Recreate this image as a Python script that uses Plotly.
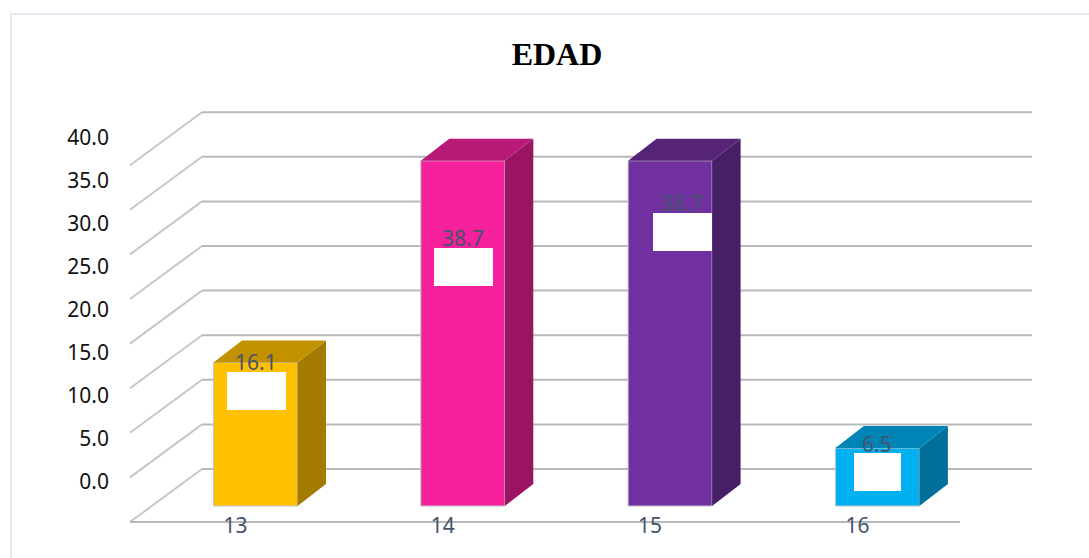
import plotly.graph_objects as go

# --- data ---
categories = ["13", "14", "15", "16"]
values = [16.1, 38.7, 38.7, 6.5]
value_labels = ["16.1", "38.7", "38.7", "6.5"]
y_ticks = [0, 5, 10, 15, 20, 25, 30, 35, 40]
y_tick_labels = ["0.0", "5.0", "10.0", "15.0", "20.0", "25.0", "30.0", "35.0", "40.0"]

# --- styling ---
front_colors = ["#FFC000", "#F5209B", "#7030A0", "#00B0F0"]
top_colors = ["#C19100", "#B81A78", "#552478", "#0084B5"]
side_colors = ["#A37B00", "#9A1462", "#461F66", "#00709A"]
GRID = "#B7B9BC"
TEXT = "#44546A"

W, H = 1089, 558
PX_CAT, X0 = 207.3, 255.5     # pixels per category, pixel of category 0
PX_VAL, Y0 = 8.92, 506.0      # pixels per value unit, pixel of value 0
xrange_main = [(0 - X0) / PX_CAT, (W - X0) / PX_CAT]
yrange_main = [(Y0 - H) / PX_VAL, Y0 / PX_VAL]

# tick label axes use their own spacing (as in the reference)
TICK_PX, TICK_Y0 = 43.1 / 5, 482.0
yrange_lab = [(TICK_Y0 - H) / TICK_PX, TICK_Y0 / TICK_PX]
LABEL_SHIFT = -20.0
xrange_lab = [(0 - X0 - LABEL_SHIFT) / PX_CAT, (W - X0 - LABEL_SHIFT) / PX_CAT]

BAR_W = 84 / PX_CAT
DEPTH_X = 28.5 / PX_CAT
DEPTH_Y = 22 / PX_VAL

# box walls, in axis units
WALL_L = (130 - X0) / PX_CAT
WALL_R = (960 - X0) / PX_CAT
BACK_DX = 72 / PX_CAT
FRONT_DV = -16 / PX_VAL
BACK_DV = 37 / PX_VAL

fig = go.Figure()

fig.add_trace(go.Bar(
    x=list(range(len(values))), y=values, width=BAR_W,
    marker=dict(color=front_colors, line=dict(color="#C4C4C8", width=1)),
    hoverinfo="skip", showlegend=False,
))

for i, v in enumerate(values):
    l, r = i - BAR_W / 2, i + BAR_W / 2
    fig.add_trace(go.Scatter(
        x=[r, r + DEPTH_X, r + DEPTH_X, r, r], y=[0, DEPTH_Y, v + DEPTH_Y, v, 0],
        mode="lines", fill="toself", fillcolor=side_colors[i],
        line=dict(width=0), hoverinfo="skip", showlegend=False))
    fig.add_trace(go.Scatter(
        x=[l, l + DEPTH_X, r + DEPTH_X, r, l], y=[v, v + DEPTH_Y, v + DEPTH_Y, v, v],
        mode="lines", fill="toself", fillcolor=top_colors[i],
        line=dict(width=0), hoverinfo="skip", showlegend=False))

# invisible trace that carries the label axes
fig.add_trace(go.Scatter(
    x=list(range(len(categories))), y=[0] * len(categories), xaxis="x2", yaxis="y2",
    mode="markers", marker=dict(opacity=0), hoverinfo="skip", showlegend=False))

shapes = []
line = dict(color=GRID, width=2)
for t in y_ticks:
    xs, ys = WALL_L, t + FRONT_DV
    xb, yb = WALL_L + BACK_DX, t + BACK_DV
    xe = WALL_R + BACK_DX
    shapes.append(dict(type="line", layer="below", xref="x", yref="y",
                       x0=xs, y0=ys, x1=xb, y1=yb, line=dict(color="#C6C7C9", width=2)))
    shapes.append(dict(type="line", layer="below", xref="x", yref="y",
                       x0=xb, y0=yb, x1=xe, y1=yb, line=line))
shapes.append(dict(type="line", layer="below", xref="x", yref="y",
                   x0=WALL_L, y0=FRONT_DV, x1=WALL_R, y1=FRONT_DV, line=line))


def pbox(x0, y0, x1, y1, **kw):
    return dict(type="rect", xref="paper", yref="paper",
                x0=x0 / W, x1=x1 / W, y0=1 - y1 / H, y1=1 - y0 / H, **kw)


# chart frame: left and top edges only
FRAME = "#E4E8F1"
shapes.append(pbox(10, 13, 12, H, layer="below", fillcolor=FRAME, line=dict(width=0)))
shapes.append(pbox(10, 13, W, 15, layer="below", fillcolor=FRAME, line=dict(width=0)))
# white patches over the bars
for bx0, by0, bx1, by1 in [(227, 372, 286, 410), (434, 248, 493, 286),
                           (653, 213, 712, 251), (854, 453, 901, 491)]:
    shapes.append(pbox(bx0, by0, bx1, by1, layer="above", fillcolor="#FFFFFF", line=dict(width=0)))

# data labels
annotations = []
label_px = [(256, 362), (463, 238), (682, 203), (877, 444)]
for (lx, ly), txt in zip(label_px, value_labels):
    annotations.append(dict(x=lx / W, y=1 - ly / H, xref="paper", yref="paper", text=txt,
                            showarrow=False, xanchor="center", yanchor="middle",
                            font=dict(family="Noto Sans", size=21, color=TEXT)))

fig.update_layout(
    width=W, height=H, margin=dict(l=0, r=0, t=0, b=0),
    paper_bgcolor="white", plot_bgcolor="rgba(0,0,0,0)",
    showlegend=False, shapes=shapes, annotations=annotations,
    title=dict(text="<b>EDAD</b>", x=557 / W, xanchor="center", y=1 - 54 / H, yanchor="middle",
               font=dict(family="Liberation Serif", size=32, color="#000000")),
    xaxis=dict(range=xrange_main, visible=False, domain=[0, 1]),
    yaxis=dict(range=yrange_main, visible=False, domain=[0, 1]),
    xaxis2=dict(range=xrange_lab, overlaying="x", anchor="free", position=1 - 511 / H,
                tickvals=list(range(len(categories))), ticktext=categories, ticklen=0,
                showgrid=False, zeroline=False, showline=False,
                tickfont=dict(family="Noto Sans", size=21, color=TEXT)),
    yaxis2=dict(range=yrange_lab, overlaying="y", anchor="free", position=109 / W, side="left",
                tickvals=y_ticks, ticktext=y_tick_labels, ticklen=0,
                showgrid=False, zeroline=False, showline=False,
                tickfont=dict(family="Noto Sans", size=21, color="#111111")),
)

fig.write_html("out.html", config=dict(displayModeBar=False),
               post_script="document.body.style.margin='0';document.body.style.overflow='hidden';")
